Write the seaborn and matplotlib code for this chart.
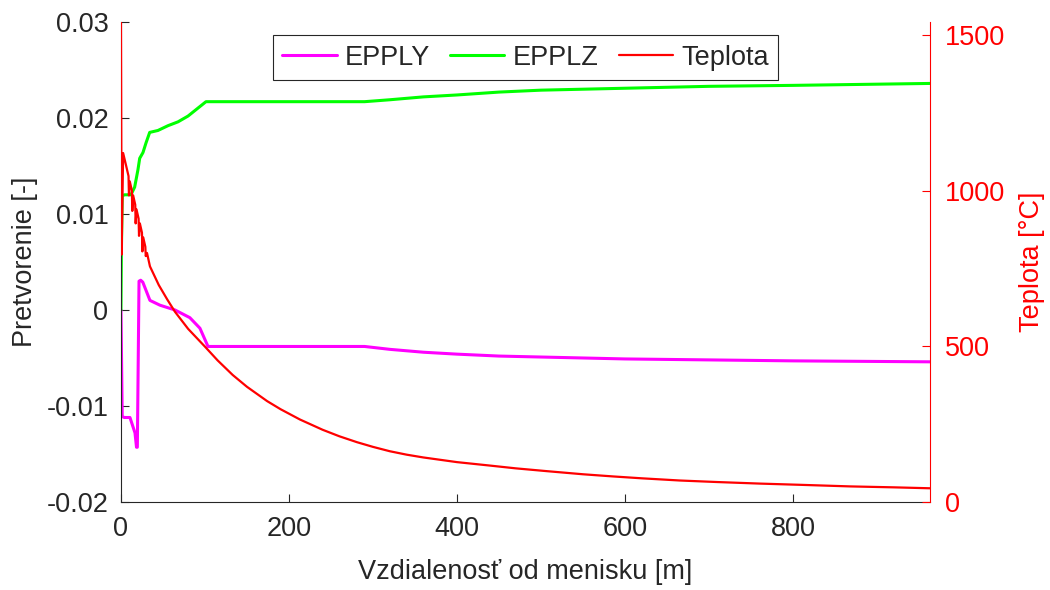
import numpy as np
import matplotlib
matplotlib.use("Agg")
import matplotlib.pyplot as plt
import seaborn as sns

# ================================
# data
# ================================

# EPPLY (strain, left axis)
epply_x = [0, 1.5, 4, 10.7, 16.7, 18.5, 19.5, 21.5, 23.5, 26, 34.5, 46.4, 64.3, 82, 94,
           103.6, 290, 320, 360, 400, 450, 500, 600, 700, 800, 963]
epply_y = [0, -0.0111, -0.0112, -0.0112, -0.0128, -0.0143, -0.0143, 0.0030, 0.0031, 0.0029,
           0.0010, 0.0005, 0.0, -0.0008, -0.0019, -0.0038, -0.0038, -0.0041, -0.0044,
           -0.0046, -0.0048, -0.0049, -0.0051, -0.0052, -0.0053, -0.0054]

# EPPLZ (strain, left axis)
epplz_x = [0, 0.5, 1.5, 4.4, 11.9, 16.3, 20.2, 22.3, 26.2, 29.8, 34.2, 44, 56, 67.9, 79.8,
           101.2, 290, 320, 360, 400, 450, 500, 600, 700, 800, 963]
epplz_y = [0, 0.0060, 0.0119, 0.0120, 0.0120, 0.0128, 0.0146, 0.0158, 0.0164, 0.0174,
           0.0185, 0.0187, 0.0192, 0.0196, 0.0202, 0.0217, 0.0217, 0.0219, 0.0222, 0.0224,
           0.0227, 0.0229, 0.0231, 0.0233, 0.0234, 0.0236]

# Teplota (temperature, right axis)
temp_x = [0, 0.8, 2.6, 6, 9, 9.5, 10.5, 13, 13.5, 14.5, 17, 17.5, 18.5, 21, 21.5, 22.5,
          25, 25.5, 26.5, 29, 29.5, 31, 34.5, 45, 55, 64.3, 80, 100, 115, 133, 150, 174,
          190, 213, 240, 260, 281, 300, 320, 340, 360, 400, 439, 470, 507, 550, 586, 620,
          665, 710, 761, 810, 868, 920, 963]
temp_y = [1542, 795, 1121, 1082, 1047, 985, 1030, 1000, 935, 985, 955, 895, 940, 910, 855,
          895, 865, 805, 850, 820, 790, 800, 757, 697, 651, 611, 556, 499, 455, 408, 370,
          324, 298, 265, 232, 211, 192, 177, 163, 152, 143, 128, 117, 108, 99, 89, 82, 76,
          69, 64, 59, 55, 50, 47, 44]

x_ticks = [0, 200, 400, 600, 800]
left_ticks = [-0.02, -0.01, 0, 0.01, 0.02, 0.03]
left_tick_labels = ["-0.02", "-0.01", "0", "0.01", "0.02", "0.03"]
right_ticks = [0, 500, 1000, 1500]

# ================================
# plot
# ================================

sns.set_style("ticks")
plt.rcParams['font.family'] = ['Liberation Sans', 'DejaVu Sans']

fig, ax = plt.subplots(figsize=(10.5, 5.9), dpi=100)
fig.subplots_adjust(left=0.1152, right=0.8857, top=0.9627, bottom=0.1492)
ax2 = ax.twinx()

sns.lineplot(x=epply_x, y=epply_y, ax=ax, color="#ff00ff", lw=2.2, label="EPPLY",
             estimator=None, sort=False, legend=False)
sns.lineplot(x=epplz_x, y=epplz_y, ax=ax, color="#00ff00", lw=2.2, label="EPPLZ",
             estimator=None, sort=False, legend=False)
sns.lineplot(x=temp_x, y=temp_y, ax=ax2, color="#ff0000", lw=1.6, label="Teplota",
             estimator=None, sort=False, legend=False)

ax.set_xlim(0, 963)
ax.set_ylim(-0.02, 0.03)
ax2.set_ylim(0, 1542)

ax.set_xticks(x_ticks)
ax.set_yticks(left_ticks)
ax.set_yticklabels(left_tick_labels)
ax2.set_yticks(right_ticks)

fs = 19.5
ax.tick_params(direction="in", length=6, width=0.8, labelsize=fs, colors="#262626")
ax.tick_params(axis="y", pad=9)
ax.tick_params(axis="x", pad=10)
ax2.tick_params(direction="in", length=6, width=0.8, labelsize=fs, colors="#ff0000", pad=11)

ax.set_xlabel("Vzdialenosť od menisku [m]", fontsize=fs, color="#262626", labelpad=12)
ax.set_ylabel("Pretvorenie [-]", fontsize=fs, color="#262626", labelpad=6)
ax2.set_ylabel("Teplota [°C]", fontsize=fs, color="#ff0000", labelpad=10)

for a in (ax, ax2):
    a.spines["top"].set_visible(False)
ax.spines["right"].set_visible(False)
ax2.spines["left"].set_visible(False)
ax2.spines["bottom"].set_visible(False)
ax2.spines["right"].set_color("#ff0000")
ax.spines["left"].set_color("#262626")
ax.spines["bottom"].set_color("#262626")

h1, l1 = ax.get_legend_handles_labels()
h2, l2 = ax2.get_legend_handles_labels()
leg = ax2.legend(h1 + h2, l1 + l2, loc="upper center", bbox_to_anchor=(0.5, 0.972),
                 ncol=3, fontsize=fs, frameon=True, fancybox=False, framealpha=1,
                 edgecolor="#262626", handlelength=2.0, columnspacing=0.75,
                 handletextpad=0.3, borderpad=0.35, borderaxespad=0)
leg.get_frame().set_linewidth(0.8)

plt.savefig("out.png", dpi=100)
